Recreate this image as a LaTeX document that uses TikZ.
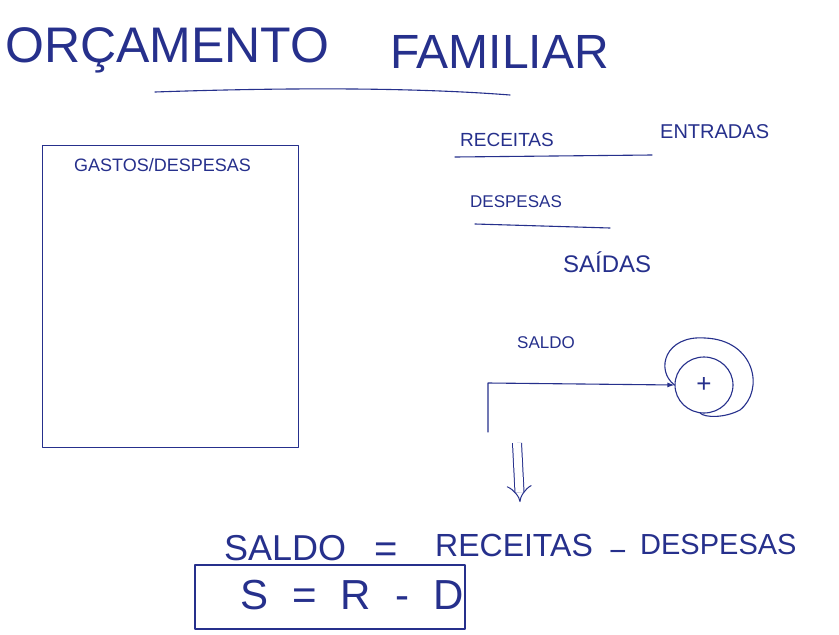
\documentclass[tikz,border=0pt]{standalone}
\usepackage{fontspec}
\setmainfont{Liberation Sans}
\usetikzlibrary{arrows.meta,shapes.geometric}
\definecolor{ink}{RGB}{38,48,140}
\tikzset{
  ink/.style={draw=ink, line width=1.1pt, line cap=round, line join=round},
  txt/.style={text=ink, inner sep=0pt, anchor=center},
}
\newcommand{\fs}[1]{\fontsize{#1}{#1}\selectfont}
\begin{document}
\begin{tikzpicture}[x=1pt,y=-1pt]
\useasboundingbox[fill=white] (0,0) rectangle (839,635);
% title
\node[txt, anchor=west] (orc) at (5,50) {\fs{50}ORÇAMENTO};
\node[txt, anchor=west] (fam) at (390,52) {\fs{48}FAMILIAR};
\coordinate (ul1) at (155,92);
\coordinate (ul2) at (510,95);
\draw[ink] (ul1) .. controls (300,87) and (420,88) .. (ul2);
% left box
\node[ink, rectangle, minimum width=256, minimum height=302, anchor=north west] (box) at (42,145) {};
\node[txt, anchor=west] (gastos) at (74,165) {\fs{18}GASTOS/DESPESAS};
% right list
\node[txt, anchor=west] (rec) at (460,140) {\fs{19}RECEITAS};
\coordinate (r1) at (455,157);
\coordinate (r2) at (652,155);
\draw[ink] (r1) -- (r2);
\node[txt, anchor=west] (ent) at (660,132) {\fs{20}ENTRADAS};
\node[txt, anchor=west] (desp) at (470,202) {\fs{17}DESPESAS};
\coordinate (d1) at (475,224);
\coordinate (d2) at (610,228);
\draw[ink] (d1) -- (d2);
\node[txt, anchor=west] (sai) at (563,262) {\fs{24}SAÍDAS};
% saldo flow
\node[txt, anchor=west] (saldo) at (517,343) {\fs{17}SALDO};
\node[ink, ellipse, minimum width=58, minimum height=56] (plus) at (704,385) {\fs{26}\color{ink}+};
\draw[ink] (plus.west) .. controls (655,370) and (665,335) .. (705,338)
  .. controls (755,340) and (765,390) .. (740,410)
  .. controls (725,418) and (705,418) .. (700,413);
\coordinate (c0) at (488,432);
\coordinate (c1) at (488,383);
\draw[ink, -{Latex[length=7pt,width=5pt]}] (c0) -- (c1) -- (plus.west);
\coordinate (da) at (517,443);
\coordinate (db) at (520,502);
\draw[draw=ink, line width=1pt, double distance=8pt, -{Implies[length=12pt]}] (da) -- (db);
% equation
\node[txt, anchor=west] (saldo2) at (224,548) {\fs{36}SALDO};
\node[txt] (eq1) at (386,553) {\fs{40}=};
\node[txt, anchor=west] (rec2) at (435,545) {\fs{32}RECEITAS};
\node[txt] (min1) at (618,556) {\fs{30}−};
\node[txt, anchor=west] (desp2) at (640,545) {\fs{29}DESPESAS};
\node[ink, rectangle, minimum width=270, minimum height=64] (formula) at (330,597) {};
\node[txt] (f) at (352,595) {\fs{42}S\hspace{24pt}=\hspace{24pt}R\hspace{24pt}-\hspace{24pt}D};
\end{tikzpicture}
\end{document}
